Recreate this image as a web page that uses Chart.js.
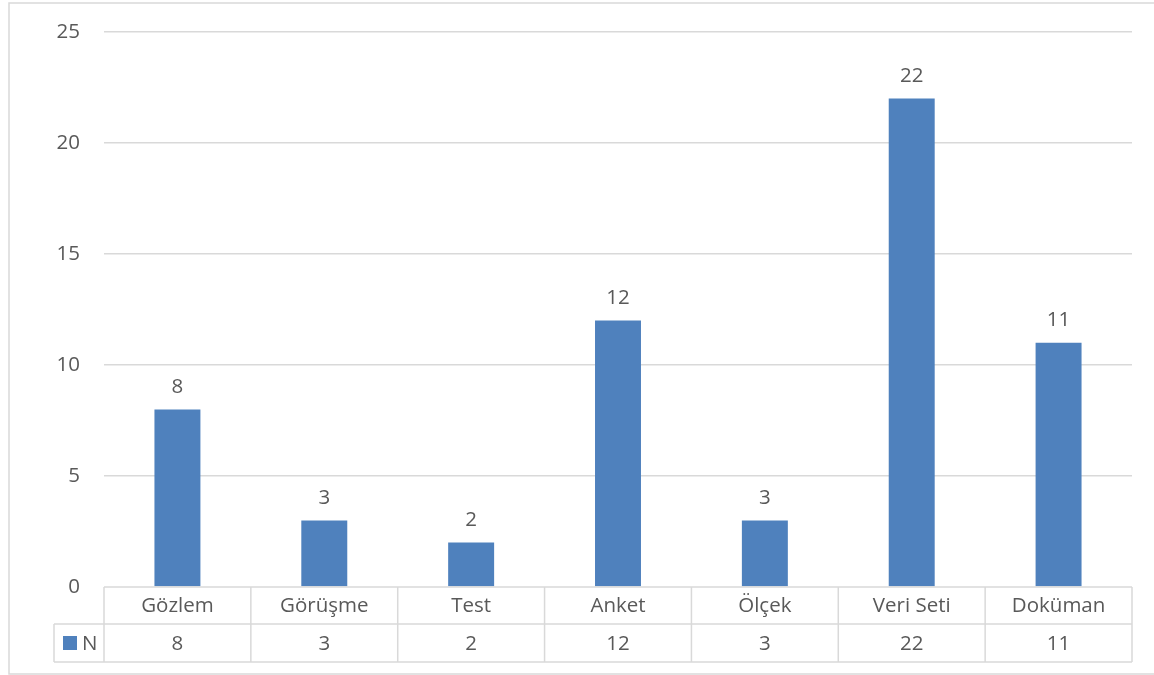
<!DOCTYPE html>
<html>
<head>
<meta charset="utf-8">
<script src="https://cdn.jsdelivr.net/npm/chart.js@4/dist/chart.umd.min.js"></script>
<style>
  html, body { margin: 0; padding: 0; background: #fff; }
  #wrap { width: 1154px; height: 675px; }
</style>
</head>
<body>
<div id="wrap"><canvas id="veriChart"></canvas></div>
<script>
// veri toplama araçları
const kategoriler = ['Gözlem', 'Görüşme', 'Test', 'Anket', 'Ölçek', 'Veri Seti', 'Doküman'];
const degerler = [8, 3, 2, 12, 3, 22, 11];
const seriAdi = 'N';
const yTicks = [0, 5, 10, 15, 20, 25];

const MAVI = '#4f81bd';
const YAZI = '#595959';
const CIZGI = '#d9d9d9';
const FONT = '"Open Sans", "Noto Sans", sans-serif';

// çubukların üstüne değer yaz
const degerEtiketi = {
    id: 'degerEtiketi',
    afterDatasetsDraw(chart) {
        const ctx = chart.ctx;
        const meta = chart.getDatasetMeta(0);
        ctx.save();
        ctx.font = '20.5px ' + FONT;
        ctx.fillStyle = YAZI;
        ctx.textAlign = 'center';
        ctx.textBaseline = 'bottom';
        meta.data.forEach((bar, i) => {
            ctx.fillText(String(chart.data.datasets[0].data[i]), bar.x, bar.y - 12);
        });
        ctx.restore();
    }
};

// alttaki veri tablosu + dış çerçeve
const veriTablosu = {
    id: 'veriTablosu',
    afterDraw(chart) {
        const ctx = chart.ctx;
        const area = chart.chartArea;
        const x = chart.scales.x;
        const n = chart.data.labels.length;
        const adim = (area.right - area.left) / n;
        const ust = area.bottom;
        const orta = ust + 37;
        const alt = ust + 75;
        const legendSol = area.left - 50;

        ctx.save();
        ctx.strokeStyle = CIZGI;
        ctx.lineWidth = 1.5;

        // yatay çizgiler
        ctx.beginPath();
        ctx.moveTo(area.left, ust); ctx.lineTo(area.right, ust);
        ctx.moveTo(legendSol, orta); ctx.lineTo(area.right, orta);
        ctx.moveTo(legendSol, alt); ctx.lineTo(area.right, alt);
        // dikey çizgiler
        ctx.moveTo(legendSol, orta); ctx.lineTo(legendSol, alt);
        for (let i = 0; i <= n; i++) {
            const px = area.left + i * adim;
            ctx.moveTo(px, ust); ctx.lineTo(px, alt);
        }
        ctx.stroke();

        // metinler
        ctx.font = '20.5px ' + FONT;
        ctx.fillStyle = YAZI;
        ctx.textAlign = 'center';
        ctx.textBaseline = 'middle';
        chart.data.labels.forEach((lab, i) => {
            const cx = x.getPixelForValue(i);
            ctx.fillText(lab, cx, (ust + orta) / 2 + 1);
            ctx.fillText(String(chart.data.datasets[0].data[i]), cx, (orta + alt) / 2 + 1);
        });

        // lejant anahtarı
        ctx.fillStyle = MAVI;
        ctx.fillRect(legendSol + 9, (orta + alt) / 2 - 7, 14, 14);
        ctx.fillStyle = YAZI;
        ctx.textAlign = 'left';
        ctx.fillText(chart.data.datasets[0].label, legendSol + 28, (orta + alt) / 2 + 1);

        // dış çerçeve
        ctx.lineWidth = 1.5;
        ctx.strokeRect(9, 3, chart.width + 20, chart.height - 4);
        ctx.restore();
    }
};

const ctxVeri = document.getElementById('veriChart').getContext('2d');
const veriChart = new Chart(ctxVeri, {
    type: 'bar',
    data: {
        labels: kategoriler,
        datasets: [{
            label: seriAdi,
            data: degerler,
            backgroundColor: MAVI,
            borderWidth: 0,
            barPercentage: 1,
            categoryPercentage: 0.313
        }]
    },
    options: {
        responsive: true,
        maintainAspectRatio: false,
        animation: false,
        devicePixelRatio: 1,
        layout: { padding: { top: 32, right: 22, bottom: 88, left: 0 } },
        plugins: {
            legend: { display: false },
            tooltip: { enabled: false }
        },
        scales: {
            x: { display: false },
            y: {
                min: 0,
                max: 25,
                afterBuildTicks: s => { s.ticks = yTicks.map(v => ({ value: v })); },
                afterFit: s => {
                    s.width = 104;
                    s.paddingTop = 0;
                    s.paddingBottom = 0;
                },
                border: { display: false },
                grid: {
                    color: ctx => ctx.tick.value === 0 ? 'rgba(0,0,0,0)' : CIZGI,
                    lineWidth: 1.5,
                    drawTicks: false
                },
                ticks: {
                    padding: 24,
                    color: YAZI,
                    font: { family: FONT, size: 20.5 }
                }
            }
        }
    },
    plugins: [degerEtiketi, veriTablosu]
});
</script>
</body>
</html>
